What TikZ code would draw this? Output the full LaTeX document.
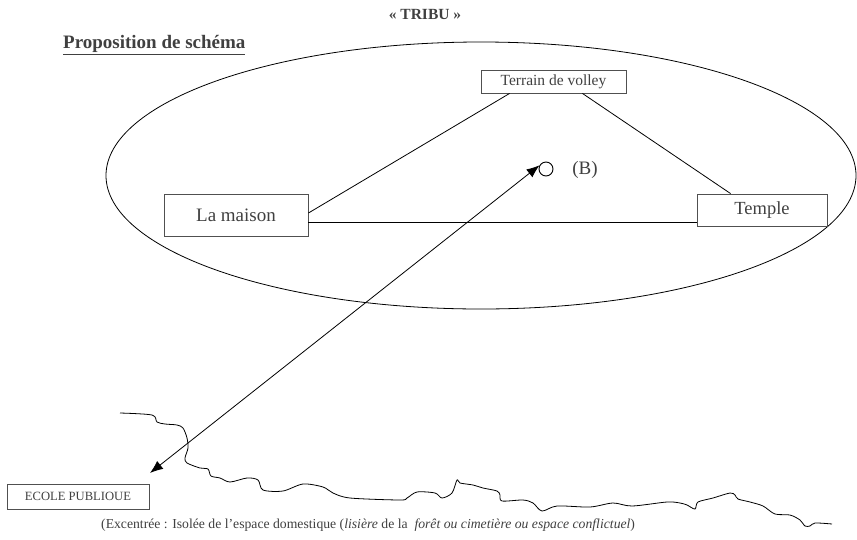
\documentclass[tikz,border=0pt]{standalone}
\usepackage{fontspec}
\setmainfont{Liberation Serif}
\usetikzlibrary{arrows.meta}
\definecolor{txtgray}{RGB}{64,64,64}
\definecolor{boxgray}{RGB}{80,80,80}
\begin{document}
\begin{tikzpicture}[x=1pt,y=-1pt,
  box/.style={draw=boxgray,line width=0.9pt,text=txtgray,inner sep=0pt,align=center},
  conn/.style={line width=0.8pt,black},
  lbl/.style={text=txtgray,inner sep=0pt}]
\useasboundingbox (0,0) rectangle (857,539);
% title
\node[lbl,font=\fontsize{15.5}{18}\selectfont\bfseries] (title) at (425,14) {« TRIBU »};
\node[lbl,anchor=west,font=\fontsize{19}{22}\selectfont\bfseries] (prop) at (63,45) {\underline{Proposition de schéma}};
% ellipse
\draw[conn] (481,175.5) ellipse [x radius=375, y radius=133.5];
% boxes
\node[box,minimum width=145pt,minimum height=23pt,font=\fontsize{15.5}{18}\selectfont] (terrain) at (553.5,81.5) {Terrain de volley};
\node[box,minimum width=144pt,minimum height=42pt,font=\fontsize{19}{22}\selectfont] (maison) at (236,215) {La maison};
\node[box,minimum width=130pt,minimum height=32pt,font=\fontsize{18.5}{22}\selectfont] (temple) at (762,210) {\raisebox{-3pt}{Temple}};
\node[box,minimum width=142pt,minimum height=25pt,font=\fontsize{12.6}{15}\selectfont] (ecole) at (78,496.5) {ECOLE PUBLIOUE};
% circle B
\node[draw=black,line width=0.9pt,circle,minimum size=14pt,inner sep=0pt] (circ) at (546,169) {};
\node[lbl,font=\fontsize{19}{22}\selectfont] (blab) at (585,170) {(B)};
% connectors
\draw[conn] ([yshift=2]maison.east) -- ([xshift=29]terrain.south west);
\draw[conn] ([xshift=-44]terrain.south east) -- ([xshift=34]temple.north west);
\draw[conn] ([yshift=-7]maison.east) -- ([yshift=-7]maison.east -| temple.west);
\coordinate (tipL) at (150,473);
\draw[conn,{Latex[length=13pt,width=10pt]}-{Latex[length=13pt,width=10pt]}] (tipL) -- (circ.150);
% edge of forest
\draw[line width=0.8pt,black] plot[smooth,tension=0.5] coordinates {
(120,413) (152,415) (157,422) (165,424) (177,425) (183,428) (187,438) (188,448) (185,458) (187,463)
(200,468) (208,469) (211,476) (220,478) (230,482) (247,478) (258,480) (263,490) (283,491) (303,484)
(323,487) (333,493) (350,498) (400,500) (407,498) (417,492) (435,493) (442,498) (452,493) (457,480)
(460,483) (473,485) (483,488) (497,491) (500,495) (502,501) (523,500) (533,503) (542,511) (557,506)
(590,507) (613,503) (632,506) (667,502) (680,503) (687,505) (695,509) (698,502) (713,498) (730,493)
(735,495) (738,499) (750,502) (763,506) (775,514) (790,515) (800,520) (805,526) (810,526) (815,523) (832,524)};
% caption
\node[lbl,anchor=west,font=\fontsize{13.7}{16}\selectfont] (cap) at (101,525) {(Excentrée : Isolée de l’espace domestique (\textit{lisière} de la~ \textit{forêt ou cimetière ou espace conflictuel})};
\end{tikzpicture}
\end{document}
